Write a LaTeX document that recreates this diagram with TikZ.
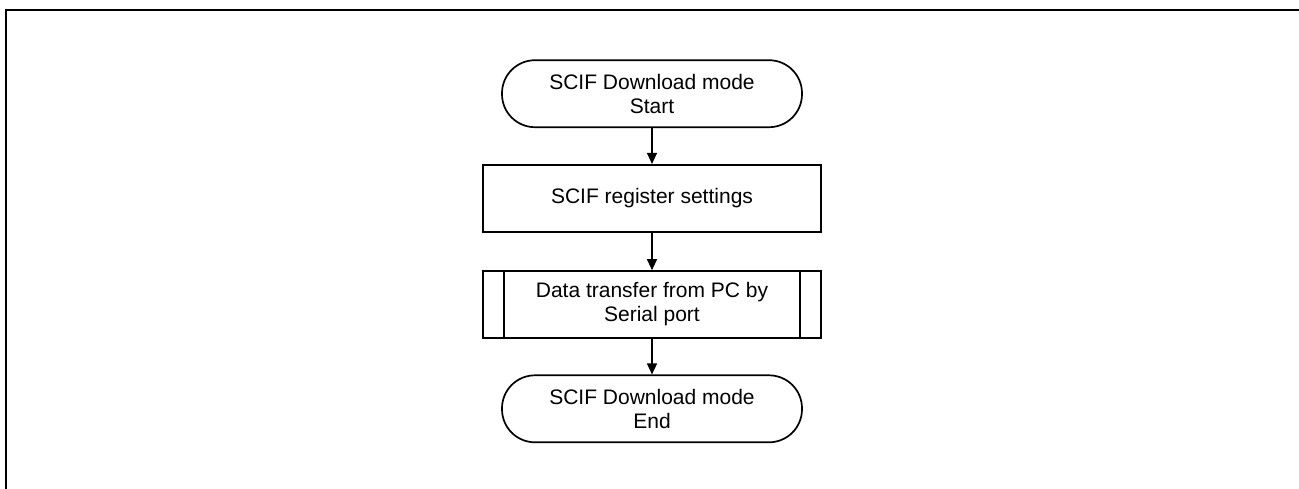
\documentclass[tikz,border=0pt]{standalone}
\usepackage{fontspec}
\setmainfont{Liberation Sans}
\usetikzlibrary{arrows.meta}
\begin{document}
\begin{tikzpicture}[x=1pt,y=-1pt,
  every node/.style={font=\fontsize{21}{24}\selectfont, align=center, inner sep=0pt},
  terminal/.style={draw, line width=1.7pt, rounded corners=33pt, minimum width=300pt, minimum height=67pt},
  procbox/.style={draw, line width=1.7pt, minimum width=338pt, minimum height=67pt},
  flow/.style={line width=1.2pt, -{Triangle[length=11pt,width=10pt]}}
]
\useasboundingbox (0,0) rectangle (1299,488);
\draw[line width=2.4pt] (6,489) -- (6,10) -- (1300,10);

\node[terminal] (start) at (652,93.7) {SCIF Download mode\\Start};
\node[procbox] (reg) at (652,198.3) {SCIF register settings};
\node[procbox] (xfer) at (652,304.5) {Data transfer from PC by\\Serial port};
\node[terminal] (stop) at (652,408.8) {SCIF Download mode\\End};

\draw[line width=1.7pt] ([xshift=21.6pt]xfer.north west) -- ([xshift=21.6pt]xfer.south west);
\draw[line width=1.7pt] ([xshift=-21.6pt]xfer.north east) -- ([xshift=-21.6pt]xfer.south east);

\draw[flow] (start) -- (reg);
\draw[flow] (reg) -- (xfer);
\draw[flow] (xfer) -- (stop);
\end{tikzpicture}
\end{document}
